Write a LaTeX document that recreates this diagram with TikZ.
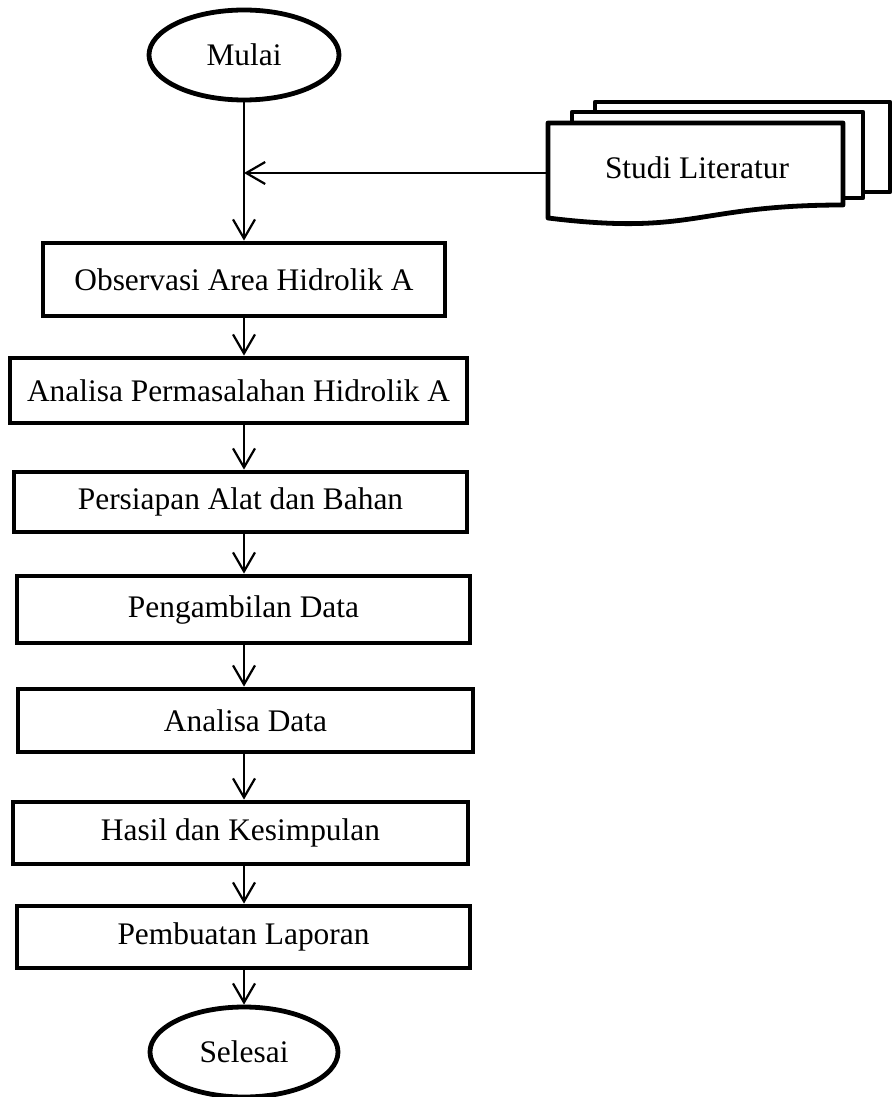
\documentclass[tikz,border=0pt]{standalone}
\usepackage{fontspec}
\setmainfont{Liberation Serif}
\usetikzlibrary{arrows.meta,shapes.geometric}

\begin{document}
\begin{tikzpicture}[x=0.5pt,y=-0.5pt,>={Straight Barb[length=9.5pt,width=11pt]},
  txt/.style={font=\fontsize{15.7}{18}\selectfont},
  box/.style={txt,draw,line width=2.4pt,rectangle,inner sep=0pt},
  term/.style={txt,draw,line width=2.4pt,ellipse,inner sep=0pt,minimum width=95pt,minimum height=45pt},
  doc/.style={fill=white,draw,line width=2.4pt,line join=round},
  flow/.style={->,line width=1.1pt}]
\useasboundingbox (0,0) rectangle (895,1097);
% ---- main column, x = 244
\node[term] (mulai) at (244,55) {Mulai};
\node[box,minimum width=201pt,minimum height=36.5pt] (obs) at (244,279.5) {Observasi Area Hidrolik A};
\node[box,minimum width=228.5pt,minimum height=32.5pt] (anl) at (238.5,390.5) {Analisa Permasalahan Hidrolik A};
\node[box,minimum width=226.5pt,minimum height=30pt] (pers) at (240.5,502) {Persiapan Alat dan Bahan};
\node[box,minimum width=226.5pt,minimum height=33.5pt] (ambil) at (243.5,609.5) {Pengambilan Data};
\node[box,minimum width=227.5pt,minimum height=31.5pt] (adata) at (245.5,720.5) {Analisa Data};
\node[box,minimum width=227.5pt,minimum height=31pt] (hasil) at (240.5,833) {Hasil dan Kesimpulan};
\node[box,minimum width=226.5pt,minimum height=31pt] (lapor) at (243.5,937) {Pembuatan Laporan};
\node[term,minimum width=94pt] (selesai) at (244,1052) {Selesai};
% ---- Studi Literatur (multi document)
\draw[doc] (595,102) rectangle (890,192);
\draw[doc] (572,112) rectangle (863,198);
\draw[doc] (548,123) -- (843,123) -- (843,205) .. controls (695,205) and (695,236) .. (548,218) -- cycle;
\node[txt] (studi) at (697,168) {Studi Literatur};
\coordinate (lit) at (548,173);
% ---- arrows
\draw[flow] (mulai.south) -- (obs.north -| mulai.south);
\draw[flow] (lit) -- (lit -| mulai.south);
\draw[flow] (obs.south -| mulai.south) -- (anl.north -| mulai.south);
\draw[flow] (anl.south -| mulai.south) -- (pers.north -| mulai.south);
\draw[flow] (pers.south -| mulai.south) -- (ambil.north -| mulai.south);
\draw[flow] (ambil.south -| mulai.south) -- (adata.north -| mulai.south);
\draw[flow] (adata.south -| mulai.south) -- (hasil.north -| mulai.south);
\draw[flow] (hasil.south -| mulai.south) -- (lapor.north -| mulai.south);
\draw[flow] (lapor.south -| mulai.south) -- (selesai.north);
\end{tikzpicture}
\end{document}
